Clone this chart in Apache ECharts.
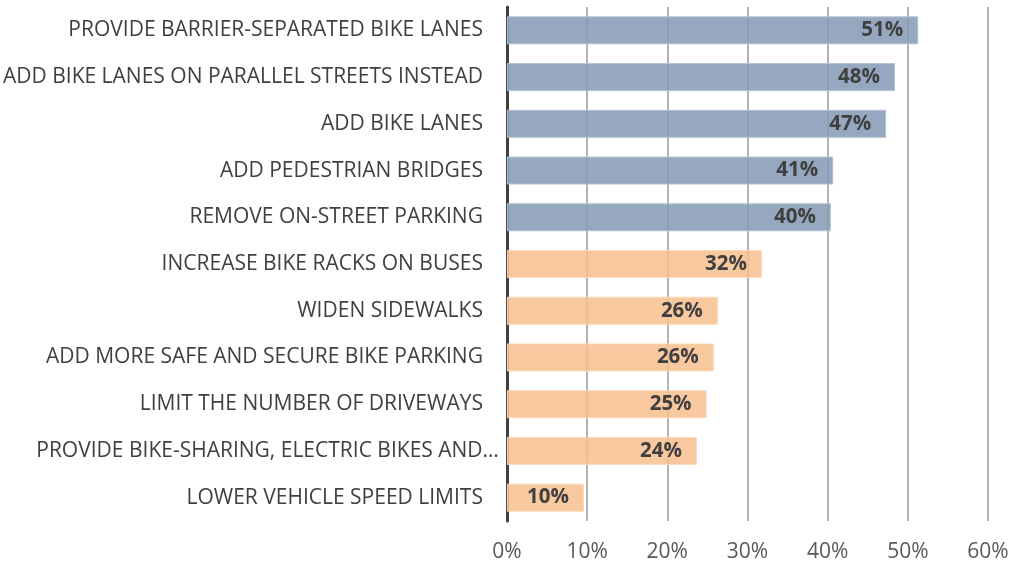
<!DOCTYPE html>
<html><head><meta charset="utf-8">
<script src="https://cdn.jsdelivr.net/npm/echarts@6/dist/echarts.min.js"></script>
<style>html,body{margin:0;padding:0;background:#fff}#c{width:1014px;height:564px}</style>
</head><body><div id="c"></div>
<script>
const categories = [
  "PROVIDE BARRIER-SEPARATED BIKE LANES",
  "ADD BIKE LANES ON PARALLEL STREETS INSTEAD",
  "ADD BIKE LANES",
  "ADD PEDESTRIAN BRIDGES",
  "REMOVE ON-STREET PARKING",
  "INCREASE BIKE RACKS ON BUSES",
  "WIDEN SIDEWALKS",
  "ADD MORE SAFE AND SECURE BIKE PARKING",
  "LIMIT THE NUMBER OF DRIVEWAYS",
  "PROVIDE BIKE-SHARING, ELECTRIC BIKES AND…",
  "LOWER VEHICLE SPEED LIMITS"
];
const values = [51.3, 48.4, 47.3, 40.7, 40.4, 31.8, 26.3, 25.8, 24.9, 23.7, 9.6];
const topGroup = [true, true, true, true, true, false, false, false, false, false, false];
const xTicks = [0, 10, 20, 30, 40, 50, 60];

const topData = values.map((v, i) => topGroup[i] ? v : null);
const restData = values.map((v, i) => topGroup[i] ? null : v);

const font = "'Open Sans', sans-serif";
const labelCfg = {
  show: true, position: 'insideRight', distance: 15,
  color: '#404040', fontWeight: 'bold', fontSize: 20.5, fontFamily: font,
  formatter: p => Math.round(p.value) + '%'
};
const chart = echarts.init(document.getElementById('c'));
chart.setOption({
  animation: false,
  grid: { left: 506, right: 26, top: 7, bottom: 43, containLabel: false },
  xAxis: {
    type: 'value', min: xTicks[0], max: xTicks[xTicks.length - 1], interval: 10,
    axisLine: { show: false }, axisTick: { show: false },
    splitLine: { show: true, lineStyle: { color: '#b3b3b3', width: 2 } },
    axisLabel: { color: '#595959', fontSize: 21, fontFamily: font, margin: 21, formatter: v => v + '%' }
  },
  yAxis: {
    type: 'category', data: categories, inverse: true,
    axisLine: { show: true, lineStyle: { color: '#404040', width: 3 } },
    axisTick: { show: false },
    axisLabel: {
      color: '#404040', fontSize: 21, fontFamily: font, margin: 24,
      formatter: v => v.endsWith('…') ? '{t|' + v + '}' : v,
      rich: { t: { color: '#404040', fontSize: 21, fontFamily: font, padding: [0, -16, 0, 0] } }
    }
  },
  series: [
    { type: 'bar', data: topData, barWidth: 28, barGap: '-100%', z: 3,
      itemStyle: { color: 'rgba(134,156,182,0.88)', borderColor: '#b4c3d3', borderWidth: 1 },
      label: labelCfg },
    { type: 'bar', data: restData, barWidth: 28, barGap: '-100%', z: 3,
      itemStyle: { color: 'rgba(247,190,142,0.85)', borderColor: '#fbd8b8', borderWidth: 1 },
      label: labelCfg }
  ]
});
</script></body></html>
